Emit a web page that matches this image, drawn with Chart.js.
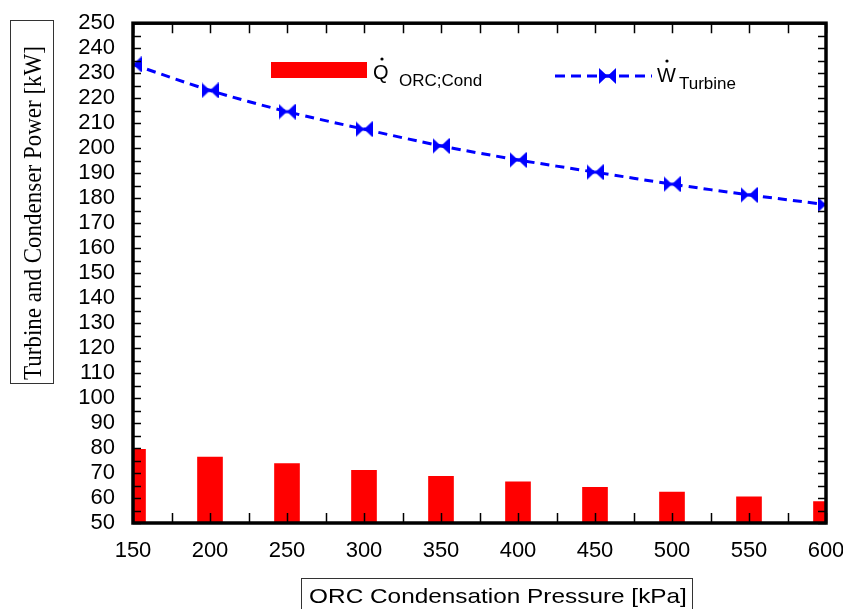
<!DOCTYPE html>
<html>
<head>
<meta charset="utf-8">
<script src="https://cdn.jsdelivr.net/npm/chart.js@4"></script>
<style>
  html, body { margin: 0; padding: 0; background: #fff; }
  #wrap { width: 843px; height: 609px; }
</style>
</head>
<body>
<div id="wrap"><canvas id="orcChart" width="843" height="609"></canvas></div>
<script>
    // values
    let pressures = [150, 200, 250, 300, 350, 400, 450, 500, 550, 600];
    let condenserPower = [79.5, 76.4, 73.8, 71.1, 68.7, 66.5, 64.3, 62.4, 60.5, 58.6];
    let turbinePower = [233.5, 223.1, 214.6, 207.6, 200.9, 195.3, 190.4, 185.6, 181.3, 177.4];

    let sansFont = "'Liberation Sans', Arial, sans-serif";
    let serifFont = "'Liberation Serif', 'Times New Roman', serif";

    // bow-tie marker used by EES style plots
    function bowtie(w, h) {
        let c = document.createElement("canvas");
        c.width = w; c.height = h;
        let g = c.getContext("2d");
        g.fillStyle = "#0000ff";
        g.beginPath();
        g.moveTo(0, 0); g.lineTo(w / 2, h / 2); g.lineTo(0, h); g.closePath();
        g.moveTo(w, 0); g.lineTo(w / 2, h / 2); g.lineTo(w, h); g.closePath();
        g.fill();
        g.fillRect(0, h / 2 - 1.5, w, 3);
        return c;
    }
    let marker = bowtie(17, 16);

    // stretched text, the original figure is a bit wider than tall
    function wideText(ctx, text, x, y, sx) {
        ctx.save();
        ctx.translate(x, y);
        ctx.scale(sx, 1);
        ctx.fillText(text, 0, 0);
        ctx.restore();
    }

    let framePlugin = {
        id: "frame",
        afterDraw(chart) {
            let ctx = chart.ctx, a = chart.chartArea;
            let x = chart.scales.x, y = chart.scales.y;
            ctx.save();
            ctx.strokeStyle = "#000";
            // inner ticks
            ctx.lineWidth = 1.5;
            ctx.beginPath();
            for (let v = 50; v <= 250; v += 5) {
                let py = Math.round(y.getPixelForValue(v)) + 0.5;
                ctx.moveTo(a.left, py); ctx.lineTo(a.left + 8, py);
                ctx.moveTo(a.right, py); ctx.lineTo(a.right - 8, py);
            }
            for (let v = 150; v <= 600; v += 25) {
                let px = Math.round(x.getPixelForValue(v)) + 0.5;
                ctx.moveTo(px, a.top); ctx.lineTo(px, a.top + 10);
                ctx.moveTo(px, a.bottom); ctx.lineTo(px, a.bottom - 10);
            }
            ctx.stroke();
            // frame
            ctx.lineWidth = 3.5;
            ctx.strokeRect(a.left, a.top, a.right - a.left, a.bottom - a.top);

            // axis titles in boxes
            ctx.lineWidth = 1;
            ctx.strokeStyle = "#333";
            ctx.strokeRect(10.5, 20.5, 43, 363);
            ctx.save();
            ctx.translate(34, 213);
            ctx.rotate(-Math.PI / 2);
            ctx.fillStyle = "#000";
            ctx.font = "23px " + serifFont;
            ctx.textAlign = "center";
            ctx.textBaseline = "middle";
            ctx.scale(1, 1.12);
            ctx.fillText("Turbine and Condenser Power [kW]", 0, 0);
            ctx.restore();

            ctx.strokeRect(301.5, 578.5, 391, 40);
            ctx.fillStyle = "#000";
            ctx.font = "21px " + sansFont;
            ctx.textAlign = "center";
            ctx.textBaseline = "alphabetic";
            wideText(ctx, "ORC Condensation Pressure [kPa]", 498, 603, 1.16);

            // legend
            ctx.textAlign = "left";
            ctx.fillStyle = "#ff0000";
            ctx.fillRect(271, 62, 96, 16);
            ctx.fillStyle = "#000";
            ctx.font = "20px " + sansFont;
            wideText(ctx, "Q", 373, 79, 1.0);
            ctx.beginPath(); ctx.arc(382, 59, 1.6, 0, Math.PI * 2); ctx.fill();
            ctx.font = "17px " + sansFont;
            wideText(ctx, "ORC;Cond", 399, 86, 1.0);

            ctx.strokeStyle = "#0000ff";
            ctx.lineWidth = 3;
            ctx.setLineDash([10, 6]);
            ctx.beginPath();
            ctx.moveTo(555, 76); ctx.lineTo(652, 76);
            ctx.stroke();
            ctx.setLineDash([]);
            ctx.drawImage(marker, 599, 68);
            ctx.fillStyle = "#000";
            ctx.font = "20px " + sansFont;
            wideText(ctx, "W", 657, 82, 1.0);
            ctx.beginPath(); ctx.arc(667, 61, 1.6, 0, Math.PI * 2); ctx.fill();
            ctx.font = "17px " + sansFont;
            wideText(ctx, "Turbine", 679, 89, 1.0);
            ctx.restore();
        }
    };

    new Chart(document.getElementById("orcChart"), {
        type: "bar",
        data: {
            datasets: [{
                type: "line",
                label: "W Turbine",
                data: pressures.map((p, i) => ({ x: p, y: turbinePower[i] })),
                borderColor: "#0000ff",
                borderWidth: 3,
                borderDash: [9, 6],
                tension: 0.3,
                fill: false,
                pointStyle: marker,
                clip: 0,
                order: 0
            }, {
                label: "Q ORC;Cond",
                data: pressures.map((p, i) => ({ x: p, y: condenserPower[i] })),
                backgroundColor: "#ff0000",
                barThickness: 25,
                order: 1
            }]
        },
        options: {
            responsive: false,
            animation: false,
            layout: { padding: { top: 21, right: 17, left: 0, bottom: 0 } },
            plugins: { legend: { display: false }, tooltip: { enabled: false } },
            scales: {
                x: {
                    type: "linear",
                    min: 150,
                    max: 600,
                    offset: false,
                    grid: { display: false },
                    border: { display: false },
                    ticks: {
                        stepSize: 50,
                        color: "#000",
                        padding: 7,
                        maxRotation: 0,
                        autoSkip: false,
                        font: { family: sansFont, size: 22 }
                    },
                    afterFit(s) { s.height = 86; s.paddingLeft = 0; s.paddingRight = 0; }
                },
                y: {
                    min: 50,
                    max: 250,
                    grid: { display: false },
                    border: { display: false },
                    ticks: {
                        stepSize: 10,
                        color: "#000",
                        padding: 10,
                        autoSkip: false,
                        font: { family: sansFont, size: 22 }
                    },
                    afterFit(s) { s.width = 133; }
                }
            }
        },
        plugins: [framePlugin]
    });
</script>
</body>
</html>
